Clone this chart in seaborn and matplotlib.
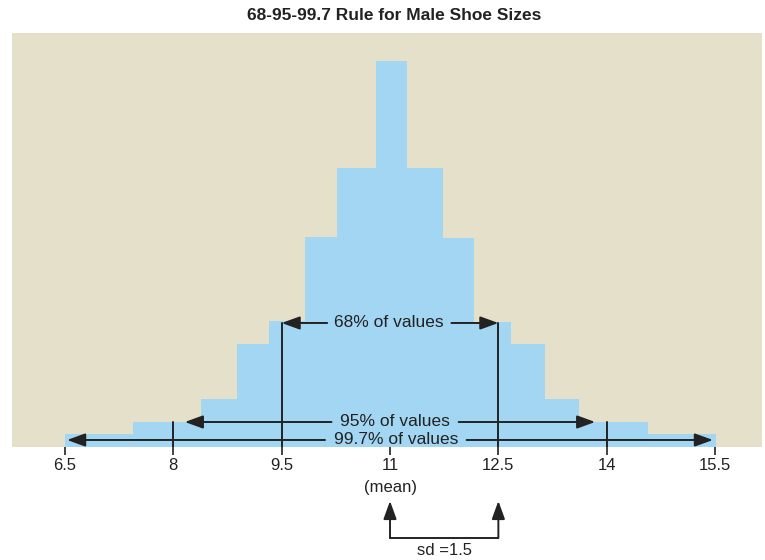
import numpy as np
import matplotlib
matplotlib.use("Agg")
import matplotlib.pyplot as plt
import seaborn as sns

# data
bin_edges = [6.5, 7.44, 8.39, 8.88, 9.33, 9.83, 10.26, 10.80, 11.23, 11.74,
             12.16, 12.68, 13.14, 13.61, 14.57, 15.51]
bar_heights = [1.3, 2.5, 4.8, 10.3, 12.6, 21.0, 27.9, 38.6, 27.9, 20.9,
               12.5, 10.3, 4.8, 2.5, 1.3]
tick_values = [6.5, 8, 9.5, 11, 12.5, 14, 15.5]
tick_labels = ["6.5", "8", "9.5", "11", "12.5", "14", "15.5"]
mean = 11
sd = 1.5
rule_k = [1, 2, 3]
rule_labels = ["68% of values", "95% of values", "99.7% of values"]

BAR_COLOR = "#A3D6F3"
BG_COLOR = "#E5E0C9"
INK = "#222222"

sns.set_style("white")
plt.rcParams["font.family"] = ["Liberation Sans", "DejaVu Sans"]

fig = plt.figure(figsize=(7.65, 5.6), dpi=100)
ax = fig.add_axes([0.0157, 0.2018, 0.9804, 0.7393])
ax.set_facecolor(BG_COLOR)

edges = np.array(bin_edges)
centers = (edges[:-1] + edges[1:]) / 2
sns.histplot(x=centers, weights=bar_heights, bins=bin_edges, ax=ax,
             color=BAR_COLOR, alpha=1, linewidth=0, element="bars")

ax.set_xlim(5.767, 16.15)
ax.set_ylim(0, 41.4)
for s in ax.spines.values():
    s.set_visible(False)
ax.set_xlabel("")
ax.set_ylabel("")
ax.set_yticks([])
ax.set_xticks(tick_values)
ax.set_xticklabels(tick_labels)
ax.tick_params(axis="x", direction="out", length=6, width=1.2, color=INK,
               labelsize=12, labelcolor=INK, pad=2, bottom=True)

ax.set_title("68-95-99.7 Rule for Male Shoe Sizes", fontsize=12.5,
             fontweight="bold", color=INK, pad=9, x=0.509)

# rule arrows (layout: arrow heights, text offsets/gaps, tip insets)
arrow_y = [12.4, 2.5, 0.7]
text_shift = [-0.01, 0.07, 0.08]
text_gap = [0.86, 0.88, 0.98]
tip_inset = [0.0, 0.16, 0.03]
arrow_kw = dict(arrowstyle="-|>,head_length=0.55,head_width=0.2",
                color=INK, lw=1.4, mutation_scale=20, shrinkA=0, shrinkB=0)

for k, lab, y, dx, gap, ins in zip(rule_k, rule_labels, arrow_y, text_shift,
                                   text_gap, tip_inset):
    lo = mean - k * sd
    hi = mean + k * sd
    tx = mean + dx
    ax.text(tx, y, lab, ha="center", va="center", fontsize=12.5, color=INK)
    ax.annotate("", xy=(lo + ins, y), xytext=(tx - gap, y), arrowprops=arrow_kw)
    ax.annotate("", xy=(hi - ins, y), xytext=(tx + gap, y), arrowprops=arrow_kw)
    if k < 3:
        ax.plot([lo, lo], [0, y], color=INK, lw=1.4)
        ax.plot([hi, hi], [0, y], color=INK, lw=1.4)

# below the axis: mean label and sd bracket
ax.text(mean, -4.1, "(mean)", ha="center", va="center", fontsize=12,
        color=INK, clip_on=False)
ax.plot([mean, mean + sd], [-9.1, -9.1], color=INK, lw=1.4, clip_on=False)
for xv in [mean, mean + sd]:
    ax.annotate("", xy=(xv, -5.4), xytext=(xv, -9.1), arrowprops=arrow_kw,
                annotation_clip=False)
ax.text(mean + sd / 2, -10.4, "sd =1.5", ha="center", va="center",
        fontsize=12, color=INK, clip_on=False)

fig.savefig("out.png", dpi=100)
plt.close(fig)
